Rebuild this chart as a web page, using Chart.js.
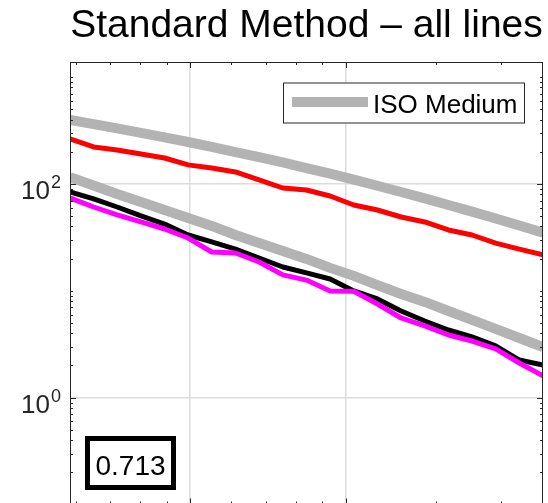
<!DOCTYPE html>
<html>
<head>
<meta charset="utf-8">
<script src="https://cdn.jsdelivr.net/npm/chart.js@4/dist/chart.umd.min.js"></script>
<style>
  html, body { margin: 0; padding: 0; background: #fff; overflow: hidden; }
  #wrap { width: 548px; height: 503px; overflow: hidden; }
</style>
</head>
<body>
<div id="wrap"><canvas id="chart" width="548" height="560"></canvas></div>
<script>
// x positions shared by every line (log axis)
var xValues = [0.585, 0.650, 0.722, 0.803, 0.892, 0.991, 1.101, 1.224, 1.360, 1.512,
               1.680, 1.867, 2.075, 2.306, 2.563, 2.848, 3.165, 3.517, 3.908, 4.343, 4.827];

// ISO reference curves (thick grey)
var isoUpper = [397, 363, 331, 301, 273, 247, 222, 199, 178, 159,
                141, 125, 110, 96.2, 84.2, 73.3, 63.6, 55.1, 47.5, 40.8, 35.0];
var isoLower = [116, 96.8, 80.6, 67.9, 57.1, 48.1, 40.5, 33.3, 28.0, 23.6,
                19.9, 16.4, 13.8, 11.3, 9.34, 7.87, 6.48, 5.34, 4.40, 3.62, 2.98];

// measured lines
var redLine = [264, 222, 208, 191, 175, 151, 141, 129.5, 109, 91.7,
               87.9, 77.2, 63.6, 57.1, 49.1, 44.1, 37.1, 33.3, 28.0, 24.6, 21.7];
var blackLine = [84.2, 72.4, 60.9, 50.2, 42.2, 33.3, 28.7, 24.6, 20.3, 16.7,
                 14.7, 12.9, 9.97, 8.39, 6.48, 5.22, 4.30, 3.70, 3.05, 2.25, 2.02];
var magentaLine = [74.0, 60.9, 51.3, 44.1, 37.9, 31.2, 23.1, 22.6, 18.6, 14.1,
                   12.6, 9.97, 9.9, 7.53, 5.57, 4.69, 3.86, 3.39, 2.86, 2.11, 1.60];

// axis limits and ticks
var xMin = 0.585, xMax = 4.827;
var yMin = 0.1, yMax = 1386;
var xMajorTicks = [1, 2];
var xMinorTicks = [0.6, 0.7, 0.8, 0.9, 1.2, 1.4, 1.6, 1.8, 3, 4];
var yMajorTicks = [1, 100];
var yTickExponents = ['0', '2'];
var yMinorTicks = [0.2, 0.3, 0.4, 0.5, 0.6, 0.7, 0.8, 0.9,
                   2, 3, 4, 5, 6, 7, 8, 9, 10, 20, 30, 40, 50, 60, 70, 80, 90,
                   200, 300, 400, 500, 600, 700, 800, 900, 1000];

var titleText = 'Standard Method \u2013 all lines';
var legendLabel = 'ISO Medium';
var scoreText = '0.713';

var FONT = '"Liberation Sans", Arial, Helvetica, sans-serif';
var AXIS_COLOR = '#262626';
var GREY = '#b3b3b3';

function toPoints(ys) {
    return xValues.map(function (x, i) { return { x: x, y: ys[i] }; });
}

function lineSet(label, ys, color, width, order) {
    return {
        label: label,
        data: toPoints(ys),
        borderColor: color,
        backgroundColor: color,
        borderWidth: width,
        pointRadius: 0,
        tension: 0,
        clip: 0,
        borderJoinStyle: 'round',
        order: order
    };
}

// ticks, box, legend, score box and the 10^n labels
var axesDecor = {
    id: 'axesDecor',
    afterDatasetsDraw: function (chart) {
        var ctx = chart.ctx, a = chart.chartArea;
        var xs = chart.scales.x, ys = chart.scales.y;
        ctx.save();
        ctx.strokeStyle = AXIS_COLOR;
        ctx.lineWidth = 1;

        function seg(x1, y1, x2, y2) {
            ctx.beginPath(); ctx.moveTo(x1, y1); ctx.lineTo(x2, y2); ctx.stroke();
        }
        function xTick(v, len) {
            var px = Math.round(xs.getPixelForValue(v)) + 0.5;
            seg(px, a.top, px, a.top + len);
            seg(px, a.bottom, px, a.bottom - len);
        }
        function yTick(v, len) {
            var py = Math.round(ys.getPixelForValue(v)) + 0.5;
            seg(a.left, py, a.left + len, py);
            seg(a.right, py, a.right - len, py);
        }
        xMinorTicks.forEach(function (v) { xTick(v, 3); });
        xMajorTicks.forEach(function (v) { xTick(v, 6); });
        yMinorTicks.forEach(function (v) { yTick(v, 3); });
        yMajorTicks.forEach(function (v) { yTick(v, 6); });

        ctx.strokeRect(a.left + 0.5, a.top + 0.5, a.width - 1, a.height - 1);

        // legend
        var lx = a.right - 260, ly = a.top + 20.5;
        ctx.fillStyle = '#fff';
        ctx.fillRect(lx, ly, 242, 41);
        ctx.strokeStyle = AXIS_COLOR;
        ctx.lineWidth = 1;
        ctx.strokeRect(lx + 0.5, ly + 0.5, 241, 40);
        ctx.strokeStyle = GREY;
        ctx.lineWidth = 10;
        seg(lx + 9, ly + 19.5, lx + 85, ly + 19.5);
        ctx.fillStyle = '#000';
        ctx.font = '26px ' + FONT;
        ctx.textAlign = 'left';
        ctx.textBaseline = 'alphabetic';
        ctx.fillText(legendLabel, lx + 90, ly + 30.5);

        // score box
        var bx = a.left + 17.5, by = a.bottom - 66;
        ctx.fillStyle = '#fff';
        ctx.fillRect(bx, by, 86, 49);
        ctx.strokeStyle = '#000';
        ctx.lineWidth = 5;
        ctx.strokeRect(bx, by, 86, 49);
        ctx.fillStyle = '#000';
        ctx.font = '28px ' + FONT;
        ctx.textAlign = 'center';
        ctx.fillText(scoreText, bx + 43, by + 36.5);

        // y tick labels as 10 with a raised exponent
        yMajorTicks.forEach(function (v, i) {
            var py = ys.getPixelForValue(v);
            ctx.fillStyle = '#262626';
            ctx.font = '26px ' + FONT;
            ctx.textAlign = 'right';
            ctx.fillText('10', a.left - 20, py + 15);
            ctx.font = '18px ' + FONT;
            ctx.textAlign = 'left';
            ctx.fillText(yTickExponents[i], a.left - 19, py + 4);
        });
        ctx.restore();
    }
};

var ctx = document.getElementById('chart').getContext('2d');
var chart = new Chart(ctx, {
    type: 'line',
    data: {
        datasets: [
            lineSet('Magenta', magentaLine, '#ff00ff', 5, 1),
            lineSet('Black', blackLine, '#000000', 5, 2),
            lineSet('Red', redLine, '#ff0000', 5, 3),
            lineSet(legendLabel, isoUpper, GREY, 10, 4),
            lineSet('ISO Medium lower', isoLower, GREY, 10, 5)
        ]
    },
    options: {
        responsive: false,
        devicePixelRatio: 1,
        animation: false,
        events: [],
        layout: { padding: { left: 70, right: 5, top: 0, bottom: 55.5 } },
        plugins: {
            legend: { display: false },
            tooltip: { enabled: false },
            title: {
                display: true,
                text: titleText,
                fullSize: false,
                color: '#000',
                font: { family: FONT, size: 39, weight: 'normal', lineHeight: 1.2 },
                padding: { top: 3, bottom: 12.2 }
            }
        },
        scales: {
            x: {
                type: 'logarithmic',
                min: xMin,
                max: xMax,
                afterBuildTicks: function (scale) {
                    scale.ticks = xMajorTicks.map(function (v) { return { value: v }; });
                },
                afterFit: function (scale) { scale.height = 0; },
                ticks: { display: false },
                border: { display: false },
                grid: { color: '#dcdcdc', lineWidth: 1.5, drawTicks: false }
            },
            y: {
                type: 'logarithmic',
                min: yMin,
                max: yMax,
                afterBuildTicks: function (scale) {
                    scale.ticks = yMajorTicks.map(function (v) { return { value: v }; });
                },
                afterFit: function (scale) { scale.width = 0; },
                ticks: { display: false },
                border: { display: false },
                grid: { color: '#dcdcdc', lineWidth: 1.5, drawTicks: false }
            }
        }
    },
    plugins: [axesDecor]
});
</script>
</body>
</html>
